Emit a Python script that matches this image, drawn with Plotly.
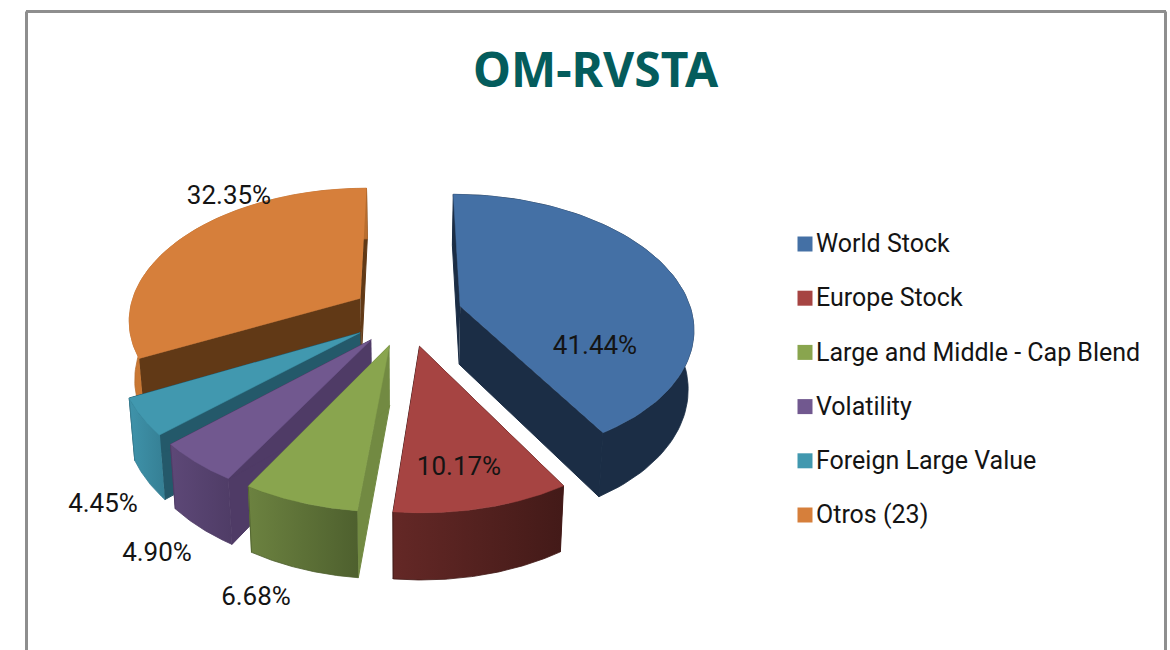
import numpy as np
import plotly.graph_objects as go

# ---- data ----
categories = ["World Stock", "Europe Stock", "Large and Middle - Cap Blend",
              "Volatility", "Foreign Large Value", "Otros (23)"]
values = [41.44, 10.17, 6.68, 4.90, 4.45, 32.35]
title_text = "OM-RVSTA"

# ---- styling ----
top_colors = ["#4470A5", "#A64442", "#89A54E", "#71588F", "#4198AF", "#D67F3B"]
wall_left = ["#1B2D45", "#642826", "#6C8240", "#5D4877", "#3F93AA", "#C97733"]
wall_right = ["#1B2D45", "#431A18", "#4E602E", "#4F3C66", "#357F94", "#B96D2E"]
cut_colors = ["#1B2D45", "#431A18", "#728A42", "#4F3B66", "#24596A", "#613916"]
legend_colors = top_colors
font = "Roboto, sans-serif"
ink = "#141414"
label_xy = [(595, 347), (459, 468), (256, 598), (157, 554), (103, 505), (229, 197)]

# ---- projection of the tilted, exploded 3-D pie ----
CX, CY, RX, RY = 407.0, 314.5, 232.0, 131.0
PERSP, EXPLODE = 0.15, 0.24
DEPTH, DEPTH_SLOPE, BASE_SHRINK = 58.4, 7.0, 0.98


def project(x, y, base=False):
    x, y = np.asarray(x, float), np.asarray(y, float)
    p = 1.0 / (1.0 - PERSP * y)
    sx = CX + RX * x * p
    sy = CY + RY * y * p
    if base:
        sx = CX + (sx - CX) * BASE_SHRINK
        sy = sy + DEPTH + DEPTH_SLOPE * y
    return sx, sy


def poly(fig, xs, ys, color, gradient=None, seam=1.0):
    kw = dict(fillcolor=color)
    if gradient:
        kw = dict(fillgradient=dict(type="horizontal",
                                    colorscale=[[0, gradient[0]], [1, gradient[1]]]))
    fig.add_trace(go.Scatter(x=xs, y=ys, mode="lines", fill="toself",
                             line=dict(width=seam, color=color), hoverinfo="skip",
                             showlegend=False, **kw))


fig = go.Figure()
fractions = np.array(values) / sum(values)
edges = np.concatenate([[0], np.cumsum(fractions)]) * 2 * np.pi
draw_order = [5, 0, 4, 3, 2, 1]

for i in draw_order:
    a0, a1 = edges[i], edges[i + 1]
    mid = (a0 + a1) / 2
    ox, oy = EXPLODE * np.sin(mid), -EXPLODE * np.cos(mid)
    t = np.linspace(a0, a1, 80)
    ax, ay = ox + np.sin(t), oy - np.cos(t)

    # the two cut walls
    for k in (0, -1):
        ex, ey = np.array([ox, ax[k]]), np.array([oy, ay[k]])
        t2x, t2y = project(ex, ey)
        b2x, b2y = project(ex, ey, base=True)
        poly(fig, np.r_[t2x, b2x[::-1]], np.r_[t2y, b2y[::-1]], cut_colors[i])

    # outer wall
    tx, ty = project(ax, ay)
    bx, by = project(ax, ay, base=True)
    poly(fig, np.r_[tx, bx[::-1]], np.r_[ty, by[::-1]], wall_right[i],
         gradient=(wall_left[i], wall_right[i]), seam=0.8)

    # top face
    fx, fy = project(np.r_[ox, ax], np.r_[oy, ay])
    poly(fig, fx, fy, top_colors[i], seam=0.5)

# percentage labels
fig.add_trace(go.Scatter(
    x=[p[0] for p in label_xy], y=[p[1] for p in label_xy],
    text=[f"{v:.2f}%" for v in values], mode="text",
    textfont=dict(family=font, size=26, color=ink),
    textposition="middle center", hoverinfo="skip", showlegend=False))

# legend
rows = 244 + 54.2 * np.arange(len(categories))
fig.add_trace(go.Scatter(
    x=[805] * len(categories), y=rows, mode="markers",
    marker=dict(symbol="square", size=15, color=legend_colors, line=dict(width=0)),
    hoverinfo="skip", showlegend=False))
fig.add_trace(go.Scatter(
    x=[816] * len(categories), y=rows + 2, mode="text", text=categories,
    textposition="middle right",
    textfont=dict(family=font, size=25, color=ink),
    hoverinfo="skip", showlegend=False))

fig.update_layout(
    width=1170, height=650, margin=dict(l=0, r=0, t=0, b=0),
    paper_bgcolor="white", plot_bgcolor="white",
    xaxis=dict(range=[0, 1170], visible=False, fixedrange=True),
    yaxis=dict(range=[650, 0], visible=False, fixedrange=True),
    annotations=[dict(x=596, y=68, xref="x", yref="y", text=f"<b>{title_text}</b>",
                      showarrow=False, xanchor="center", yanchor="middle",
                      font=dict(family="Noto Sans, sans-serif", size=48, color="#045C5C"))],
    shapes=[
        dict(type="line", x0=26.5, x1=26.5, y0=11.5, y1=650, xref="x", yref="y",
             line=dict(color="#8E8E8E", width=3)),
        dict(type="line", x0=26, x1=1166, y0=11.5, y1=11.5, xref="x", yref="y",
             line=dict(color="#8E8E8E", width=3)),
        dict(type="line", x0=1165.5, x1=1165.5, y0=11.5, y1=650, xref="x", yref="y",
             line=dict(color="#8E8E8E", width=3)),
    ],
)
fig.write_html("out.html", config={"displayModeBar": False},
               post_script="document.body.style.margin='0';")
